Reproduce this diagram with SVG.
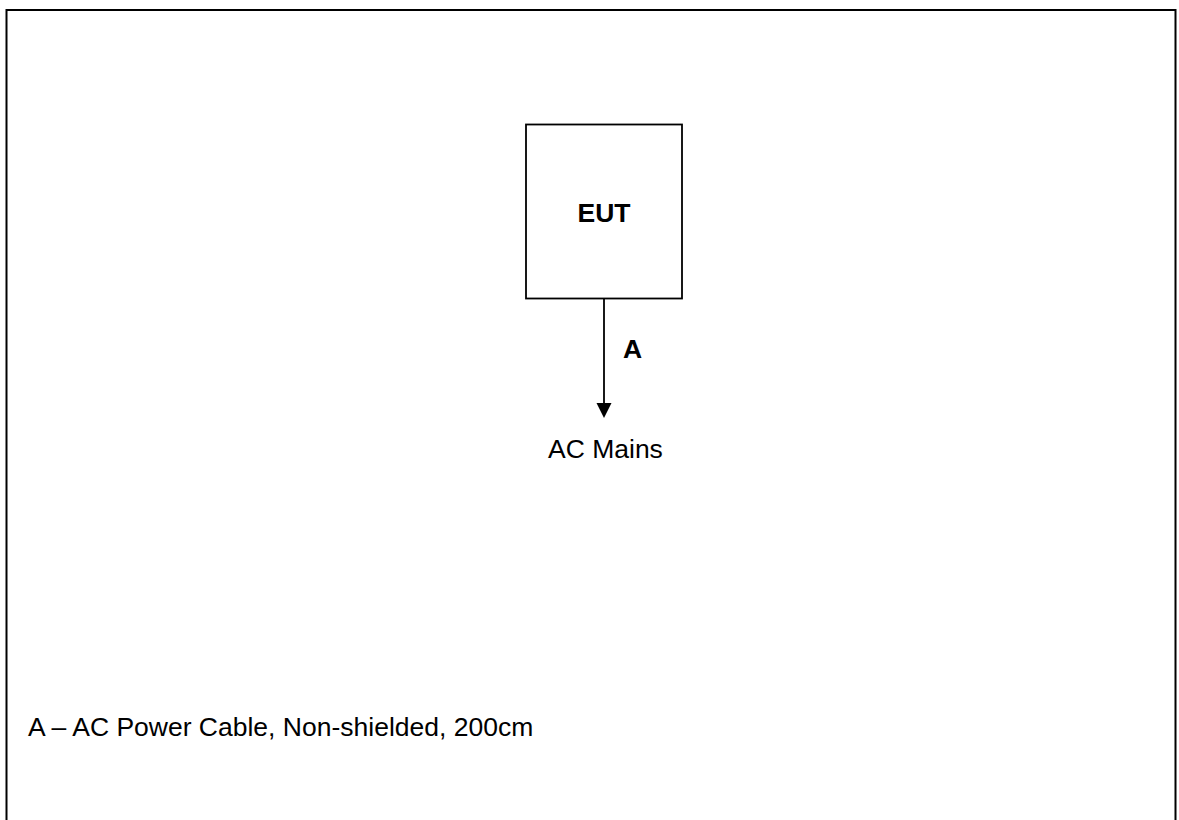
<svg xmlns="http://www.w3.org/2000/svg" width="1179" height="820" viewBox="0 0 1179 820">
<style>
text{font-family:"Liberation Sans",Arial,sans-serif;font-size:26.5px;fill:#000}
.b{font-weight:bold}
.ln{stroke:#000;stroke-width:1.8;fill:none}
</style>
<rect width="1179" height="820" fill="#fff"/>
<path d="M6.5,830 V10 H1175.5 V830" fill="none" stroke="#000" stroke-width="2"/>
<g id="connectors">
<line class="ln" x1="604" y1="298" x2="604" y2="405"/>
<polygon points="596.5,403 611.5,403 604,418" fill="#000"/>
<text class="b" x="623" y="358">A</text>
</g>
<g id="eut">
<rect class="ln" x="526" y="124.5" width="156" height="174"/>
<text class="b" x="604" y="221.5" text-anchor="middle">EUT</text>
</g>
<g id="ac-mains">
<text x="548" y="458">AC Mains</text>
</g>
<g id="legend">
<text x="28" y="736">A – AC Power Cable, Non-shielded, 200cm</text>
</g>
</svg>
